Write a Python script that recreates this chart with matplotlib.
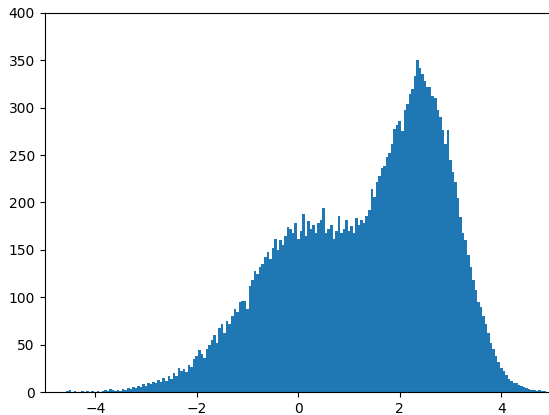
import numpy as np
import matplotlib
matplotlib.use("Agg")
import matplotlib.pyplot as plt

# bin heights, one value per 0.05-wide bin,
# first bin centred at -4.60, last at 4.85
bin_start = -4.625
bin_width = 0.05
heights = [
    0, 1, 2, 0, 1, 0, 0, 1, 0, 1, 0, 1, 0, 1, 0, 1, 2, 1, 3, 2,                      # -4.60 .. -3.65
    1, 2, 1, 3, 2, 4, 3, 5, 4, 6, 5, 8, 6, 10, 8, 11, 9, 13, 11, 15,                 # -3.60 .. -2.65
    12, 17, 14, 20, 17, 25, 22, 24, 21, 28, 26, 35, 38, 44, 40, 36, 45, 50, 55, 60,  # -2.60 .. -1.65
    52, 68, 72, 62, 75, 72, 80, 88, 84, 95, 96, 96, 88, 112, 118, 128, 125, 132, 135, 142,   # -1.60 .. -0.65
    148, 140, 152, 162, 150, 160, 155, 165, 174, 172, 168, 178, 162, 170, 188, 165, 180, 172, 176, 168,  # -0.60 .. 0.35
    178, 182, 194, 168, 172, 176, 162, 170, 186, 168, 172, 182, 170, 175, 168, 184, 176, 182, 178, 186,  # 0.40 .. 1.35
    192, 214, 206, 222, 228, 236, 238, 248, 252, 262, 278, 282, 286, 275, 298, 304, 314, 320, 334, 350,  # 1.40 .. 2.35
    342, 336, 328, 322, 322, 312, 310, 298, 290, 276, 262, 276, 245, 232, 222, 205, 185, 168, 160, 145,  # 2.40 .. 3.35
    132, 118, 108, 95, 90, 80, 72, 62, 52, 45, 38, 32, 25, 22, 18, 14, 12, 10, 9, 7,  # 3.40 .. 4.35
    6, 5, 4, 3, 2, 2, 1, 2, 1, 1,                                                    # 4.40 .. 4.85
]

x_ticks = [-4, -2, 0, 2, 4]
y_ticks = [0, 50, 100, 150, 200, 250, 300, 350, 400]

edges = bin_start + bin_width * np.arange(len(heights) + 1)
centers = 0.5 * (edges[:-1] + edges[1:])

fig = plt.figure(figsize=(5.49, 4.15), dpi=100)
ax = fig.add_axes([44.5 / 549, 23 / 415, 507.5 / 549, 379 / 415])

ax.hist(centers, bins=edges, weights=heights, histtype='stepfilled', color='#1f77b4', linewidth=0)

ax.set_xlim(-5, 5)
ax.set_ylim(0, 400)
ax.set_xticks(x_ticks)
ax.set_yticks(y_ticks)

fig.savefig('out.png', dpi=100)
